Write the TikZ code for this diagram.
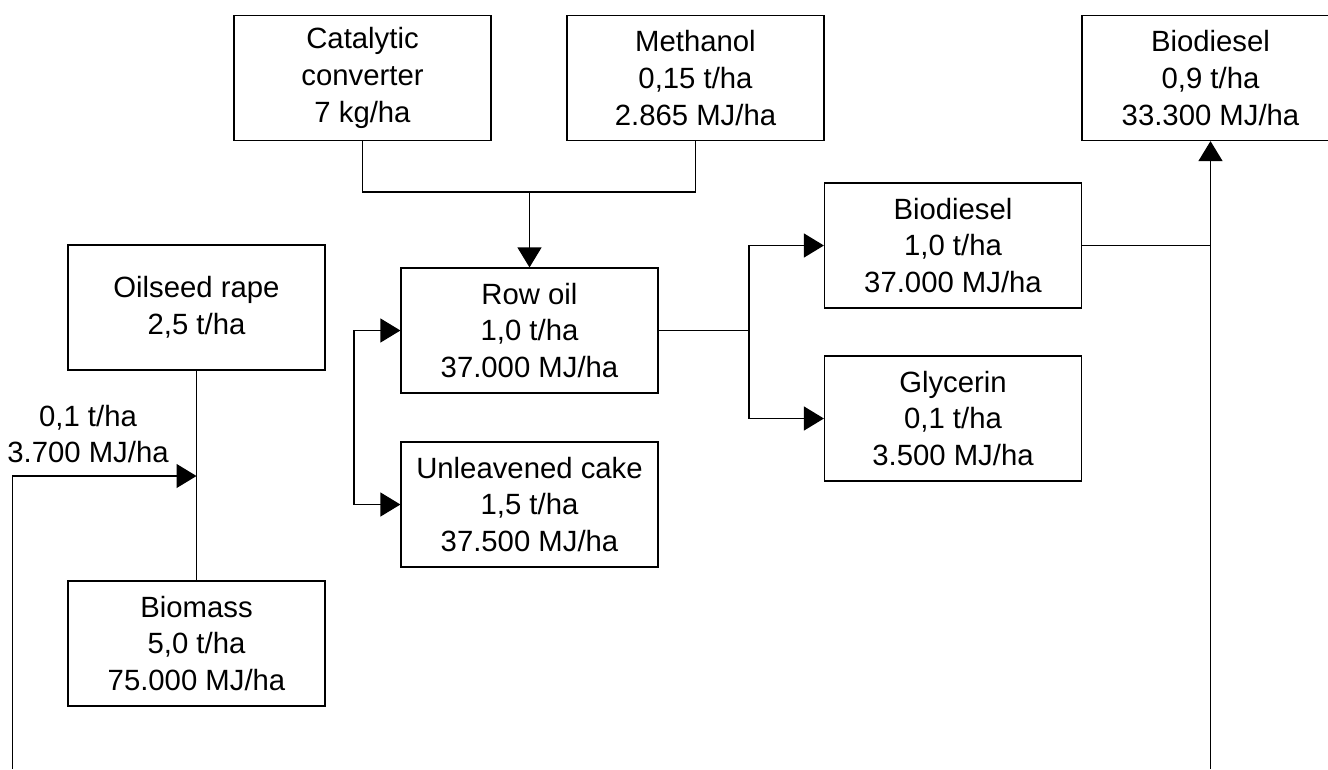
\documentclass[tikz,border=0pt]{standalone}
\usepackage{fontspec}
\setmainfont{Liberation Sans}
\usetikzlibrary{arrows.meta}

\begin{document}
\begin{tikzpicture}[
	>={Triangle[length=20pt,width=24pt]},
	line width=1.2pt,
	x=1pt,y=-1pt,
	font=\fontsize{29.3}{36.7}\selectfont,
	box/.style={draw, align=center, minimum width=257pt, minimum height=125pt, inner sep=0pt}
	]
	% page frame
\useasboundingbox (0,0) rectangle (1328,769);

			\node[box] (catalytic)   at (362.5, 78) {Catalytic\\converter\\7 kg/ha};
			\node[box] (methanol)   at (695.5, 78) {Methanol\\0,15 t/ha\\2.865 MJ/ha};
			\node[box] (fuel)   at (1210.5, 78) {Biodiesel\\0,9 t/ha\\33.300 MJ/ha};
			\node[box] (oilseed)   at (196.5, 307.5) {Oilseed rape\\2,5 t/ha};
			\node[box] (biomass)   at (196.5, 643.5) {Biomass\\5,0 t/ha\\75.000 MJ/ha};
			\node[box] (rowoil)   at (529.5, 330.5) {Row oil\\1,0 t/ha\\37.000 MJ/ha};
			\node[box] (unleavened)   at (529.5, 504.5) {Unleavened cake\\1,5 t/ha\\37.500 MJ/ha};
			\node[box] (biodiesel)   at (953, 245.5) {Biodiesel\\1,0 t/ha\\37.000 MJ/ha};
			\node[box] (glycerin)   at (953, 418.5) {Glycerin\\0,1 t/ha\\3.500 MJ/ha};
			\node[align=center] (lossnote)   at (88, 434) {0,1 t/ha\\3.700 MJ/ha};

			% joints and loose ends
			\coordinate (feedjoin) at (529.5, 192);
			\coordinate (seedfoot) at (12.5, 769);
			\coordinate (seedjoin) at (196.5, 476);
			\coordinate (pressbar) at (354, 417);
			\coordinate (estersplit) at (749, 330.5);
			\coordinate (fuelfoot) at (1210.5, 769);

			\draw (catalytic.south) |- (feedjoin) -| (methanol.south);
			\draw[->] (feedjoin) -- (rowoil.north);
			\draw (oilseed.south) -- (biomass.north);
			\draw[->] (seedfoot) |- (seedjoin);
			\draw[->] (pressbar) |- (rowoil.west);
			\draw[->] (pressbar) |- (unleavened.west);
			\draw (rowoil.east) -- (estersplit);
			\draw[->] (estersplit) |- (biodiesel.west);
			\draw[->] (estersplit) |- (glycerin.west);
			\draw (biodiesel.east) -- (biodiesel.east -| fuelfoot);
			\draw[->] (fuelfoot) -- (fuel.south);

\end{tikzpicture}
\end{document}
